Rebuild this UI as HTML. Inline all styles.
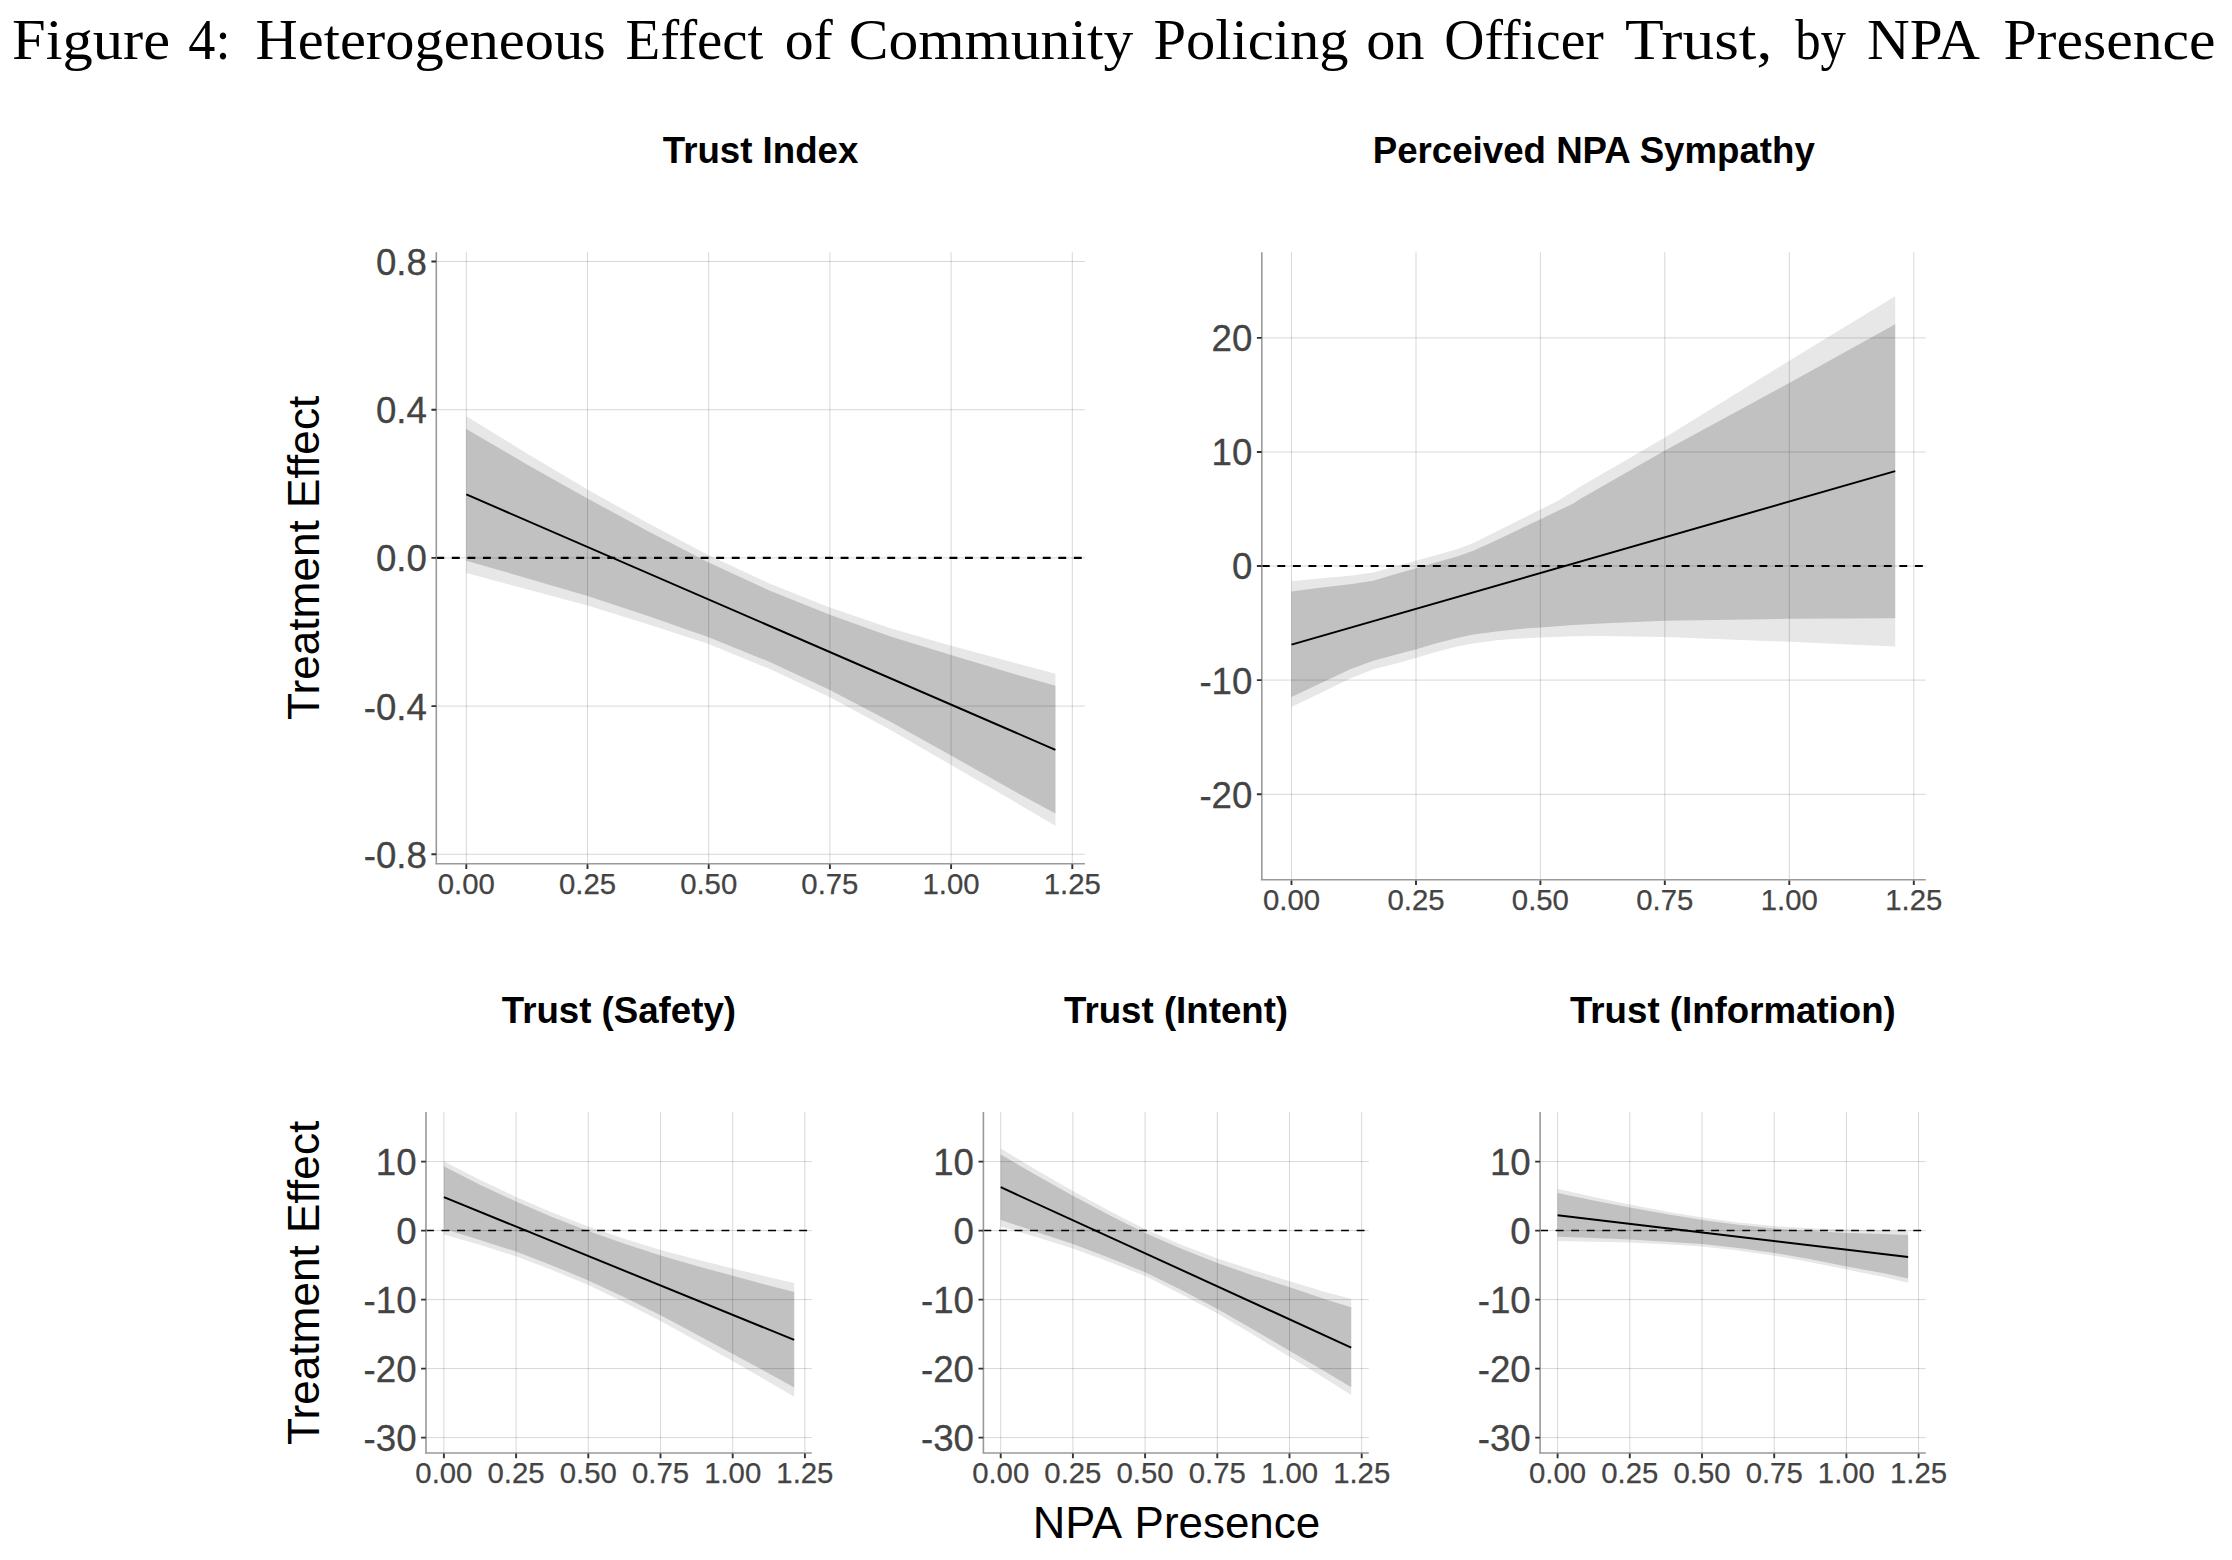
<!DOCTYPE html>
<html lang="en"><head><meta charset="utf-8"><title>Figure 4</title>
<style>html,body{margin:0;padding:0;background:#fff}body{width:2232px;height:1560px;overflow:hidden}svg{display:block}</style>
</head><body>
<svg width="2232" height="1560" viewBox="0 0 2232 1560">
<rect width="2232" height="1560" fill="#fff"/>
<text id="maintitle" y="58.8" font-family="'Liberation Serif', 'DejaVu Serif', serif" font-size="57" fill="#000"><tspan x="12.10" textLength="157.99" lengthAdjust="spacingAndGlyphs">Figure</tspan> <tspan x="188.35" textLength="42.18" lengthAdjust="spacingAndGlyphs">4:</tspan> <tspan x="255.58" textLength="350.27" lengthAdjust="spacingAndGlyphs">Heterogeneous</tspan> <tspan x="625.53" textLength="137.79" lengthAdjust="spacingAndGlyphs">Effect</tspan> <tspan x="784.68" textLength="48.19" lengthAdjust="spacingAndGlyphs">of</tspan> <tspan x="848.67" textLength="284.59" lengthAdjust="spacingAndGlyphs">Community</tspan> <tspan x="1153.52" textLength="194.95" lengthAdjust="spacingAndGlyphs">Policing</tspan> <tspan x="1366.15" textLength="58.46" lengthAdjust="spacingAndGlyphs">on</tspan> <tspan x="1444.37" textLength="159.49" lengthAdjust="spacingAndGlyphs">Officer</tspan> <tspan x="1624.90" textLength="147.34" lengthAdjust="spacingAndGlyphs">Trust,</tspan> <tspan x="1795.13" textLength="50.84" lengthAdjust="spacingAndGlyphs">by</tspan> <tspan x="1867.00" textLength="109.63" lengthAdjust="spacingAndGlyphs">NPA</tspan> <tspan x="2003.45" textLength="212.04" lengthAdjust="spacingAndGlyphs">Presence</tspan></text>
<g id="p1">
<polygon points="466.3,416.2 526.9,453.5 587.5,489.4 648.1,523.3 708.7,555.3 769.3,583.5 829.9,607.5 890.5,628.3 951.1,645.7 1011.7,662.1 1055.4,673.7 1055.4,825.8 1011.7,800.1 951.1,764.9 890.5,730.1 829.9,697.2 769.3,668.8 708.7,644.0 648.1,624.3 587.5,605.4 526.9,589.2 466.3,573.1" fill="#e7e7e7"/>
<polygon points="466.3,428.9 526.9,464.4 587.5,498.5 648.1,531.3 708.7,562.5 769.3,590.5 829.9,614.8 890.5,636.4 951.1,655.0 1011.7,673.3 1055.4,685.7 1055.4,813.6 1011.7,789.8 951.1,755.4 890.5,721.7 829.9,690.1 769.3,661.8 708.7,637.2 648.1,615.9 587.5,595.9 526.9,578.2 466.3,560.8" fill="#c1c1c1"/>
<path d="M436.3 261.5H1084.9M436.3 409.7H1084.9M436.3 557.9H1084.9M436.3 706.1H1084.9M436.3 854.3H1084.9M466.3 252.3V863.7M587.5 252.3V863.7M708.7 252.3V863.7M829.9 252.3V863.7M951.1 252.3V863.7M1072.3 252.3V863.7" stroke="#000" stroke-opacity="0.19" stroke-width="0.85" fill="none"/>
<path d="M436.3 557.9H1084.9" stroke="#000" stroke-width="2.1" stroke-dasharray="7.9 7.65" fill="none"/>
<path d="M466.3 494.4L1055.4 749.8" stroke="#000" stroke-width="1.95" fill="none"/>
<path d="M436.3 252.3V863.7M435.3 863.7H1084.9" stroke="#999" stroke-width="1.6" fill="none"/>
<path d="M431.4 261.5H436.2M431.4 409.7H436.2M431.4 557.9H436.2M431.4 706.1H436.2M431.4 854.3H436.2M466.3 864.3V868.9M587.5 864.3V868.9M708.7 864.3V868.9M829.9 864.3V868.9M951.1 864.3V868.9M1072.3 864.3V868.9" stroke="#333" stroke-width="1.9" fill="none"/>
<g font-family="'Liberation Sans', Arial, Helvetica, sans-serif" font-size="36.67" fill="#444" stroke="#444" stroke-width="0.3" text-anchor="end">
<text x="426.9" y="274.9">0.8</text>
<text x="426.9" y="423.1">0.4</text>
<text x="426.9" y="571.3">0.0</text>
<text x="426.9" y="719.5">-0.4</text>
<text x="426.9" y="867.7">-0.8</text>
</g>
<g font-family="'Liberation Sans', Arial, Helvetica, sans-serif" font-size="29.33" fill="#444" stroke="#444" stroke-width="0.25" text-anchor="middle">
<text x="466.3" y="893.9">0.00</text>
<text x="587.5" y="893.9">0.25</text>
<text x="708.7" y="893.9">0.50</text>
<text x="829.9" y="893.9">0.75</text>
<text x="951.1" y="893.9">1.00</text>
<text x="1072.3" y="893.9">1.25</text>
</g>
<text x="760.6" y="162.9" text-anchor="middle" font-family="'Liberation Sans', Arial, Helvetica, sans-serif" font-weight="bold" font-size="36.67" fill="#000">Trust Index</text>
</g>
<g id="p2">
<polygon points="1291.5,581.2 1319.5,578.5 1350.2,575.7 1373.3,572.6 1396.4,566.2 1416.4,560.5 1434.8,555.4 1457.9,548.9 1473.3,543.1 1496.4,531.5 1519.5,520.0 1540.5,509.5 1557.9,500.8 1581.0,486.2 1664.5,437.7 1789.2,360.8 1895.2,296.2 1895.2,646.6 1789.2,641.8 1664.5,636.9 1601.0,636.0 1573.3,636.3 1540.5,637.4 1519.5,638.5 1496.4,640.3 1473.3,643.4 1457.9,646.2 1434.8,652.3 1416.4,657.7 1396.4,663.4 1373.3,669.2 1350.2,678.5 1319.5,693.5 1291.5,706.9" fill="#e7e7e7"/>
<polygon points="1291.5,591.5 1319.5,587.7 1350.2,584.3 1373.3,580.8 1396.4,573.8 1416.4,568.2 1434.8,562.8 1457.9,556.2 1473.3,550.8 1496.4,540.3 1519.5,529.2 1540.5,519.2 1573.3,503.4 1581.0,498.5 1664.5,450.8 1789.2,383.1 1895.2,324.2 1895.2,618.2 1789.2,618.8 1664.5,620.8 1601.0,623.5 1573.3,624.9 1540.5,627.4 1519.5,628.9 1496.4,631.5 1473.3,634.6 1457.9,637.7 1434.8,643.8 1416.4,649.2 1396.4,654.6 1373.3,660.8 1350.2,669.2 1319.5,683.8 1291.5,696.9" fill="#c1c1c1"/>
<path d="M1261.8 337.9H1925.8M1261.8 452.0H1925.8M1261.8 566.0H1925.8M1261.8 680.1H1925.8M1261.8 794.3H1925.8M1291.5 252.2V879.8M1416.0 252.2V879.8M1540.4 252.2V879.8M1664.8 252.2V879.8M1789.3 252.2V879.8M1913.8 252.2V879.8" stroke="#000" stroke-opacity="0.19" stroke-width="0.85" fill="none"/>
<path d="M1261.8 566.0H1925.8" stroke="#000" stroke-width="2.1" stroke-dasharray="7.9 7.65" fill="none"/>
<path d="M1291.5 644.6L1895.2 471.1" stroke="#000" stroke-width="1.95" fill="none"/>
<path d="M1261.8 252.2V879.8M1260.8 879.8H1925.8" stroke="#999" stroke-width="1.6" fill="none"/>
<path d="M1256.9 337.9H1261.7M1256.9 452.0H1261.7M1256.9 566.0H1261.7M1256.9 680.1H1261.7M1256.9 794.3H1261.7M1291.5 880.4V885.0M1416.0 880.4V885.0M1540.4 880.4V885.0M1664.8 880.4V885.0M1789.3 880.4V885.0M1913.8 880.4V885.0" stroke="#333" stroke-width="1.9" fill="none"/>
<g font-family="'Liberation Sans', Arial, Helvetica, sans-serif" font-size="36.67" fill="#444" stroke="#444" stroke-width="0.3" text-anchor="end">
<text x="1252.4" y="351.3">20</text>
<text x="1252.4" y="465.4">10</text>
<text x="1252.4" y="579.4">0</text>
<text x="1252.4" y="693.5">-10</text>
<text x="1252.4" y="807.7">-20</text>
</g>
<g font-family="'Liberation Sans', Arial, Helvetica, sans-serif" font-size="29.33" fill="#444" stroke="#444" stroke-width="0.25" text-anchor="middle">
<text x="1291.5" y="910.0">0.00</text>
<text x="1416.0" y="910.0">0.25</text>
<text x="1540.4" y="910.0">0.50</text>
<text x="1664.8" y="910.0">0.75</text>
<text x="1789.3" y="910.0">1.00</text>
<text x="1913.8" y="910.0">1.25</text>
</g>
<text x="1593.8" y="162.9" text-anchor="middle" font-family="'Liberation Sans', Arial, Helvetica, sans-serif" font-weight="bold" font-size="36.67" fill="#000">Perceived NPA Sympathy</text>
</g>
<g id="p3">
<polygon points="443.9,1161.5 479.8,1179.8 516.0,1196.9 552.1,1212.5 588.3,1226.5 624.4,1238.7 660.6,1250.0 696.7,1259.6 732.9,1268.6 769.0,1277.2 794.2,1283.1 794.2,1396.7 769.0,1381.9 732.9,1361.2 696.7,1340.9 660.6,1321.1 624.4,1302.5 588.3,1285.0 552.1,1270.0 516.0,1256.3 479.8,1244.7 443.9,1234.4" fill="#e7e7e7"/>
<polygon points="443.9,1166.3 479.8,1184.7 516.0,1201.6 552.1,1217.1 588.3,1231.1 624.4,1243.7 660.6,1255.6 696.7,1266.0 732.9,1275.8 769.0,1285.6 794.2,1292.1 794.2,1387.4 769.0,1373.4 732.9,1354.1 696.7,1334.5 660.6,1315.3 624.4,1297.2 588.3,1280.4 552.1,1265.4 516.0,1251.6 479.8,1240.1 443.9,1228.7" fill="#c1c1c1"/>
<path d="M426.0 1161.6H811.8M426.0 1230.6H811.8M426.0 1299.6H811.8M426.0 1368.6H811.8M426.0 1437.6H811.8M443.9 1112.0V1453.0M516.1 1112.0V1453.0M588.3 1112.0V1453.0M660.5 1112.0V1453.0M732.7 1112.0V1453.0M804.9 1112.0V1453.0" stroke="#000" stroke-opacity="0.19" stroke-width="0.85" fill="none"/>
<path d="M426.0 1230.6H811.8" stroke="#000" stroke-width="1.5" stroke-dasharray="7.9 7.65" fill="none"/>
<path d="M443.9 1197.2L794.2 1339.9" stroke="#000" stroke-width="1.95" fill="none"/>
<path d="M426.0 1112.0V1453.0M425.0 1453.0H811.8" stroke="#999" stroke-width="1.6" fill="none"/>
<path d="M421.1 1161.6H425.9M421.1 1230.6H425.9M421.1 1299.6H425.9M421.1 1368.6H425.9M421.1 1437.6H425.9M443.9 1453.6V1458.2M516.1 1453.6V1458.2M588.3 1453.6V1458.2M660.5 1453.6V1458.2M732.7 1453.6V1458.2M804.9 1453.6V1458.2" stroke="#333" stroke-width="1.9" fill="none"/>
<g font-family="'Liberation Sans', Arial, Helvetica, sans-serif" font-size="36.67" fill="#444" stroke="#444" stroke-width="0.3" text-anchor="end">
<text x="416.6" y="1175.0">10</text>
<text x="416.6" y="1244.0">0</text>
<text x="416.6" y="1313.0">-10</text>
<text x="416.6" y="1382.0">-20</text>
<text x="416.6" y="1451.0">-30</text>
</g>
<g font-family="'Liberation Sans', Arial, Helvetica, sans-serif" font-size="29.33" fill="#444" stroke="#444" stroke-width="0.25" text-anchor="middle">
<text x="443.9" y="1482.7">0.00</text>
<text x="516.1" y="1482.7">0.25</text>
<text x="588.3" y="1482.7">0.50</text>
<text x="660.5" y="1482.7">0.75</text>
<text x="732.7" y="1482.7">1.00</text>
<text x="804.9" y="1482.7">1.25</text>
</g>
<text x="618.9" y="1022.7" text-anchor="middle" font-family="'Liberation Sans', Arial, Helvetica, sans-serif" font-weight="bold" font-size="36.67" fill="#000">Trust (Safety)</text>
</g>
<g id="p4">
<polygon points="1000.7,1148.6 1036.8,1170.2 1072.9,1191.1 1109.1,1210.8 1145.2,1229.2 1181.3,1244.7 1217.5,1258.4 1253.6,1270.3 1289.8,1281.2 1325.9,1292.2 1351.2,1298.7 1351.2,1395.0 1325.9,1379.1 1289.8,1356.9 1253.6,1335.0 1217.5,1313.5 1181.3,1294.3 1145.2,1276.1 1109.1,1261.8 1072.9,1248.5 1036.8,1237.2 1000.7,1226.4" fill="#e7e7e7"/>
<polygon points="1000.7,1154.5 1036.8,1175.6 1072.9,1195.7 1109.1,1215.0 1145.2,1233.1 1181.3,1248.8 1217.5,1263.0 1253.6,1275.7 1289.8,1287.3 1325.9,1299.4 1351.2,1307.3 1351.2,1387.3 1325.9,1372.1 1289.8,1350.9 1253.6,1329.8 1217.5,1309.0 1181.3,1290.1 1145.2,1272.3 1109.1,1257.7 1072.9,1243.9 1036.8,1231.9 1000.7,1219.9" fill="#c1c1c1"/>
<path d="M983.4 1161.6H1368.8M983.4 1230.6H1368.8M983.4 1299.6H1368.8M983.4 1368.6H1368.8M983.4 1437.6H1368.8M1000.7 1112.0V1453.0M1072.9 1112.0V1453.0M1145.1 1112.0V1453.0M1217.3 1112.0V1453.0M1289.5 1112.0V1453.0M1361.7 1112.0V1453.0" stroke="#000" stroke-opacity="0.19" stroke-width="0.85" fill="none"/>
<path d="M983.4 1230.6H1368.8" stroke="#000" stroke-width="1.5" stroke-dasharray="7.9 7.65" fill="none"/>
<path d="M1000.7 1187.2L1351.2 1347.6" stroke="#000" stroke-width="1.95" fill="none"/>
<path d="M983.4 1112.0V1453.0M982.4 1453.0H1368.8" stroke="#999" stroke-width="1.6" fill="none"/>
<path d="M978.5 1161.6H983.3M978.5 1230.6H983.3M978.5 1299.6H983.3M978.5 1368.6H983.3M978.5 1437.6H983.3M1000.7 1453.6V1458.2M1072.9 1453.6V1458.2M1145.1 1453.6V1458.2M1217.3 1453.6V1458.2M1289.5 1453.6V1458.2M1361.7 1453.6V1458.2" stroke="#333" stroke-width="1.9" fill="none"/>
<g font-family="'Liberation Sans', Arial, Helvetica, sans-serif" font-size="36.67" fill="#444" stroke="#444" stroke-width="0.3" text-anchor="end">
<text x="974.0" y="1175.0">10</text>
<text x="974.0" y="1244.0">0</text>
<text x="974.0" y="1313.0">-10</text>
<text x="974.0" y="1382.0">-20</text>
<text x="974.0" y="1451.0">-30</text>
</g>
<g font-family="'Liberation Sans', Arial, Helvetica, sans-serif" font-size="29.33" fill="#444" stroke="#444" stroke-width="0.25" text-anchor="middle">
<text x="1000.7" y="1482.7">0.00</text>
<text x="1072.9" y="1482.7">0.25</text>
<text x="1145.1" y="1482.7">0.50</text>
<text x="1217.3" y="1482.7">0.75</text>
<text x="1289.5" y="1482.7">1.00</text>
<text x="1361.7" y="1482.7">1.25</text>
</g>
<text x="1176.1" y="1022.7" text-anchor="middle" font-family="'Liberation Sans', Arial, Helvetica, sans-serif" font-weight="bold" font-size="36.67" fill="#000">Trust (Intent)</text>
</g>
<g id="p5">
<polygon points="1557.6,1188.7 1593.7,1196.9 1629.8,1204.5 1666.0,1211.5 1702.2,1217.6 1738.3,1222.5 1774.6,1226.1 1810.7,1228.2 1846.8,1229.4 1882.7,1230.5 1908.1,1231.5 1908.1,1282.7 1882.7,1276.7 1846.8,1269.6 1810.7,1262.2 1774.6,1255.7 1738.3,1250.4 1702.2,1246.5 1666.0,1244.2 1629.8,1242.6 1593.7,1241.7 1557.6,1241.0" fill="#e7e7e7"/>
<polygon points="1557.6,1193.0 1593.7,1200.5 1629.8,1207.4 1666.0,1214.0 1702.2,1219.9 1738.3,1224.8 1774.6,1228.5 1810.7,1231.0 1846.8,1232.9 1882.7,1234.0 1908.1,1234.9 1908.1,1278.6 1882.7,1273.1 1846.8,1266.5 1810.7,1259.3 1774.6,1253.0 1738.3,1248.0 1702.2,1244.1 1666.0,1241.7 1629.8,1239.6 1593.7,1238.1 1557.6,1236.7" fill="#c1c1c1"/>
<path d="M1540.1 1161.6H1925.8M1540.1 1230.6H1925.8M1540.1 1299.6H1925.8M1540.1 1368.6H1925.8M1540.1 1437.6H1925.8M1557.6 1112.0V1453.0M1629.8 1112.0V1453.0M1702.0 1112.0V1453.0M1774.2 1112.0V1453.0M1846.4 1112.0V1453.0M1918.6 1112.0V1453.0" stroke="#000" stroke-opacity="0.19" stroke-width="0.85" fill="none"/>
<path d="M1540.1 1230.6H1925.8" stroke="#000" stroke-width="1.5" stroke-dasharray="7.9 7.65" fill="none"/>
<path d="M1557.6 1215.2L1908.1 1257.0" stroke="#000" stroke-width="1.95" fill="none"/>
<path d="M1540.1 1112.0V1453.0M1539.1 1453.0H1925.8" stroke="#999" stroke-width="1.6" fill="none"/>
<path d="M1535.2 1161.6H1540.0M1535.2 1230.6H1540.0M1535.2 1299.6H1540.0M1535.2 1368.6H1540.0M1535.2 1437.6H1540.0M1557.6 1453.6V1458.2M1629.8 1453.6V1458.2M1702.0 1453.6V1458.2M1774.2 1453.6V1458.2M1846.4 1453.6V1458.2M1918.6 1453.6V1458.2" stroke="#333" stroke-width="1.9" fill="none"/>
<g font-family="'Liberation Sans', Arial, Helvetica, sans-serif" font-size="36.67" fill="#444" stroke="#444" stroke-width="0.3" text-anchor="end">
<text x="1530.7" y="1175.0">10</text>
<text x="1530.7" y="1244.0">0</text>
<text x="1530.7" y="1313.0">-10</text>
<text x="1530.7" y="1382.0">-20</text>
<text x="1530.7" y="1451.0">-30</text>
</g>
<g font-family="'Liberation Sans', Arial, Helvetica, sans-serif" font-size="29.33" fill="#444" stroke="#444" stroke-width="0.25" text-anchor="middle">
<text x="1557.6" y="1482.7">0.00</text>
<text x="1629.8" y="1482.7">0.25</text>
<text x="1702.0" y="1482.7">0.50</text>
<text x="1774.2" y="1482.7">0.75</text>
<text x="1846.4" y="1482.7">1.00</text>
<text x="1918.6" y="1482.7">1.25</text>
</g>
<text x="1732.9" y="1022.7" text-anchor="middle" font-family="'Liberation Sans', Arial, Helvetica, sans-serif" font-weight="bold" font-size="36.67" fill="#000">Trust (Information)</text>
</g>
<g font-family="'Liberation Sans', Arial, Helvetica, sans-serif" font-size="44.0" fill="#000" text-anchor="middle">
<text transform="translate(318.9,557.8) rotate(-90)" font-size="44.2">Treatment Effect</text>
<text transform="translate(318.9,1282.8) rotate(-90)" font-size="44.2">Treatment Effect</text>
<text id="xtitle" text-anchor="start" y="1538.4"><tspan x="1032.76" textLength="86.84" lengthAdjust="spacingAndGlyphs">NPA</tspan> <tspan x="1134.60" textLength="185.59" lengthAdjust="spacingAndGlyphs">Presence</tspan></text>
</g>
</svg>
</body></html>
